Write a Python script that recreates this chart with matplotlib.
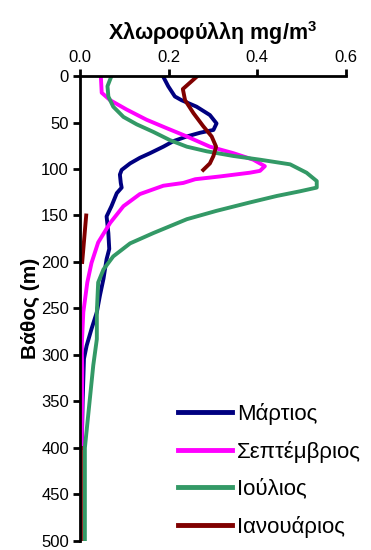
import matplotlib
matplotlib.use("Agg")
import matplotlib.pyplot as plt
import numpy as np

plt.rcParams.update({
    "font.family": ["Liberation Sans", "DejaVu Sans"],
    "figure.facecolor": "white",
    "axes.facecolor": "white",
})

NAVY = "#000080"; MAGENTA = "#FF00FF"; GREEN = "#339966"; DARKRED = "#800000"

# Μάρτιος
mar_depth = [0, 11, 22, 26, 33, 42, 51, 58, 61, 65, 70, 76, 83, 88, 94, 101, 106, 115, 120,
             126, 140, 151, 169, 186, 197, 218, 236, 254, 272, 290, 304, 326, 350, 400]
mar_chl = [0.187, 0.199, 0.214, 0.229, 0.263, 0.293, 0.308, 0.301, 0.271, 0.241, 0.211, 0.188,
           0.158, 0.135, 0.113, 0.094, 0.090, 0.092, 0.094, 0.083, 0.071, 0.060, 0.064, 0.066,
           0.060, 0.053, 0.045, 0.038, 0.026, 0.015, 0.009, 0.0075, 0.006, 0.004]

# Σεπτέμβριος
sep_depth = [0, 18, 26, 36, 47, 56, 65, 76, 83, 90, 97, 102, 104, 108, 111, 115, 118, 127,
             140, 158, 179, 201, 222, 254, 290, 315, 400]
sep_chl = [0.047, 0.049, 0.068, 0.105, 0.150, 0.195, 0.241, 0.293, 0.346, 0.391, 0.417, 0.406,
           0.383, 0.316, 0.260, 0.233, 0.188, 0.135, 0.098, 0.068, 0.041, 0.026, 0.0165, 0.0075,
           0.004, 0.005, 0.004]

# Ιούλιος
jul_depth = [0, 11, 22, 33, 44, 52, 60, 69, 76, 81, 86, 90, 95, 104, 113, 120, 124, 129, 136,
             145, 154, 169, 180, 194, 208, 222, 254, 283, 311, 400, 500]
jul_chl = [0.071, 0.062, 0.064, 0.075, 0.098, 0.128, 0.165, 0.203, 0.241, 0.286, 0.346, 0.406,
           0.474, 0.511, 0.534, 0.534, 0.496, 0.444, 0.383, 0.308, 0.241, 0.165, 0.113, 0.075,
           0.053, 0.041, 0.038, 0.038, 0.030, 0.011, 0.011]

# Ιανουάριος (gaps where no samples)
jan_depth = [0, 14, 26, 40, 54, 65, 76, 86, 94, 101, 125, 150, 200, 300, 400, 500]
jan_chl = [0.265, 0.232, 0.237, 0.256, 0.278, 0.297, 0.307, 0.301, 0.293, 0.278, np.nan,
           0.014, 0.005, np.nan, 0.002, 0.002]

xticks = [0.0, 0.2, 0.4, 0.6]
yticks = list(range(0, 501, 50))

fig = plt.figure(figsize=(3.71, 5.5), dpi=100)
ax = fig.add_axes([0.2156, 0.0165, 0.717, 0.8453])

lw = 2.8
ax.plot(mar_chl, mar_depth, color=NAVY, lw=lw, label="Μάρτιος")
ax.plot(sep_chl, sep_depth, color=MAGENTA, lw=lw, label="Σεπτέμβριος")
ax.plot(jul_chl, jul_depth, color=GREEN, lw=lw, label="Ιούλιος")
ax.plot(jan_chl, jan_depth, color=DARKRED, lw=lw, label="Ιανουάριος")

ax.set_xlim(0, 0.6)
ax.set_ylim(500, 0)
ax.xaxis.tick_top()
ax.xaxis.set_label_position("top")
ax.set_xticks(xticks)
ax.set_xticklabels([f"{v:.1f}" for v in xticks])
ax.set_yticks(yticks)
ax.tick_params(axis="both", labelsize=12, width=2, length=5, direction="out", pad=3)
for s in ["right", "bottom"]:
    ax.spines[s].set_visible(False)
for s in ["left", "top"]:
    ax.spines[s].set_linewidth(2)

ax.set_xlabel("Χλωροφύλλη mg/m$^\\mathregular{3}$", fontsize=15.5, fontweight="bold", labelpad=7)
ax.set_ylabel("Βάθος (m)", fontsize=15, fontweight="bold", labelpad=1)

leg = ax.legend(loc="lower right", bbox_to_anchor=(1.09, -0.012), fontsize=16, frameon=False,
                handlelength=2.4, handletextpad=0.25, labelspacing=0.72, borderaxespad=0)
for h in leg.legend_handles:
    h.set_linewidth(3.5)

fig.savefig("out.png", dpi=100)
